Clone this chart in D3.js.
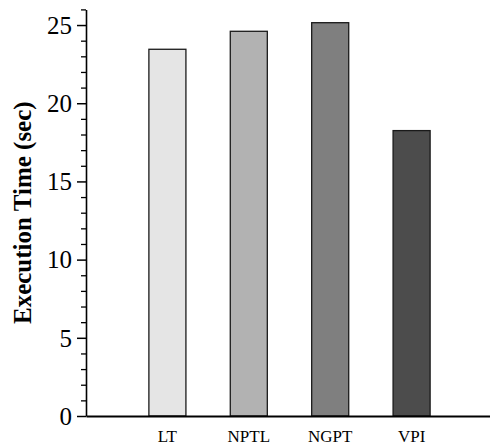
<!DOCTYPE html>
<html>
<head>
<meta charset="utf-8">
<script src="https://cdn.jsdelivr.net/npm/d3@7"></script>
<style>
  body { margin: 0; background: #fff; }
  svg { display: block; }
  .tick text { font-family: "Liberation Serif", "Times New Roman", serif; fill: #000; }
</style>
</head>
<body>
<div id="chart"></div>
<script>
// data
var categories = ["LT", "NPTL", "NGPT", "VPI"];
var execTime = [23.45, 24.6, 25.15, 18.25];
var barColors = ["#e5e5e5", "#b2b2b2", "#7f7f7f", "#4c4c4c"];
var yMajorTicks = [0, 5, 10, 15, 20, 25];
var yMax = 26;

var W = 490, H = 445;
var margin = { top: 9.4, right: -3, bottom: 29, left: 86 };

var svg = d3.select("#chart")
    .append("svg")
    .attr("width", W)
    .attr("height", H);

var y = d3.scaleLinear()
    .domain([0, yMax])
    .range([H - margin.bottom, margin.top]);

// bands centred at 1..4 on a 0..5 axis
var x = d3.scaleBand()
    .domain(categories)
    .range([margin.left, W - margin.right])
    .paddingInner(0.545)
    .paddingOuter(0.7725);

// bars
svg.append("g")
    .selectAll("rect")
    .data(execTime)
    .enter()
    .append("rect")
    .attr("x", function (d, i) { return x(categories[i]); })
    .attr("y", function (d) { return y(d); })
    .attr("width", x.bandwidth())
    .attr("height", function (d) { return y(0) - y(d); })
    .attr("fill", function (d, i) { return barColors[i]; })
    .attr("stroke", "#1a1a1a")
    .attr("stroke-width", 1.3);

// minor ticks on y
var minor = d3.range(0, yMax + 1).filter(function (v) { return v % 5 !== 0; });
svg.append("g")
    .attr("transform", "translate(" + margin.left + ",0)")
    .call(d3.axisLeft(y).tickValues(minor).tickSize(5).tickFormat(""))
    .call(function (g) { g.select(".domain").remove(); })
    .selectAll("line").attr("stroke", "#000").attr("stroke-width", 1.3);

// major y axis
var yAxis = svg.append("g")
    .attr("transform", "translate(" + margin.left + ",0)")
    .call(d3.axisLeft(y).tickValues(yMajorTicks).tickSize(9).tickSizeOuter(0).tickPadding(5));
yAxis.select(".domain").attr("stroke", "#000").attr("stroke-width", 1.6);
yAxis.selectAll(".tick line").attr("stroke", "#000").attr("stroke-width", 1.5);
yAxis.selectAll(".tick text").style("font-size", "25px").attr("dy", "0.33em");

// x axis
var xAxis = svg.append("g")
    .attr("transform", "translate(0," + y(0) + ")")
    .call(d3.axisBottom(x).tickSize(0).tickSizeOuter(0).tickPadding(14));
xAxis.select(".domain").attr("stroke", "#000").attr("stroke-width", 1.8);
xAxis.selectAll(".tick text").style("font-size", "17px");

// y label
svg.append("text")
    .attr("transform", "translate(31," + ((y(0) + y(yMax)) / 2) + ") rotate(-90)")
    .attr("text-anchor", "middle")
    .style("font-family", "'Liberation Serif', 'Times New Roman', serif")
    .style("font-weight", "bold")
    .style("font-size", "25px")
    .text("Execution Time (sec)");
</script>
</body>
</html>
